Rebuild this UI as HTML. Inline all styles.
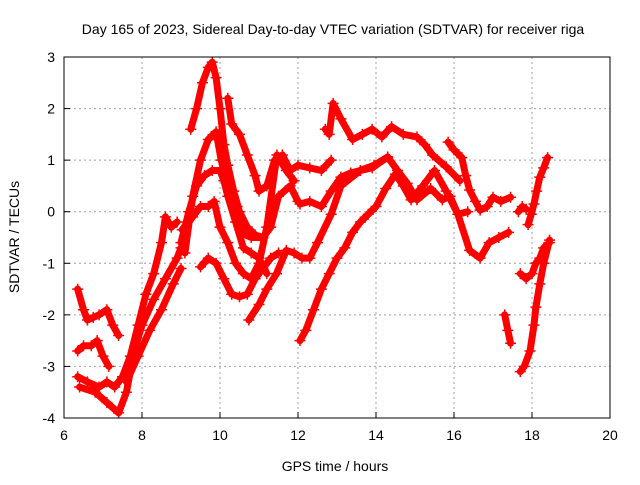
<!DOCTYPE html>
<html><head><meta charset="utf-8"><style>
body{margin:0;background:#fff;}
svg text{font-family:"Liberation Sans",sans-serif;font-size:14px;fill:#000;}
</style></head><body>
<svg id="chart" width="640" height="480" xmlns="http://www.w3.org/2000/svg">
<text x="333" y="34" text-anchor="middle">Day 165 of 2023, Sidereal Day-to-day VTEC variation (SDTVAR) for receiver riga</text>
<g id="grid"></g>
<g id="marks"></g>
<rect x="64" y="57" width="546" height="361" fill="none" stroke="#000" stroke-width="1"/>
<g id="ticks"></g>
<text x="335" y="471" text-anchor="middle">GPS time / hours</text>
<text transform="translate(19,237) rotate(-90)" text-anchor="middle">SDTVAR / TECUs</text>
</svg>
<script>
const xTicks=[6,8,10,12,14,16,18,20];
const yTicks=[-4,-3,-2,-1,0,1,2,3];
const s1x=[6.35,6.5,6.6,6.75,6.9,7.1,7.25,7.4];
const s1y=[-1.5,-1.9,-2.1,-2.05,-2.0,-1.9,-2.2,-2.4];
const s2x=[6.35,6.5,6.7,6.85,7.0,7.15];
const s2y=[-2.7,-2.6,-2.6,-2.5,-2.8,-3.0];
const s3x=[6.35,6.6,6.9,7.1,7.3,7.5,7.7,7.9,8.1,8.3,8.5,8.6,8.75,8.9];
const s3y=[-3.2,-3.3,-3.4,-3.3,-3.4,-3.2,-2.8,-2.2,-1.6,-1.2,-0.6,-0.1,-0.3,-0.2];
const s4x=[6.4,6.8,7.1,7.4,7.6,7.8,8.0,8.3,8.6,8.9,9.0];
const s4y=[-3.4,-3.5,-3.7,-3.9,-3.5,-2.7,-2.2,-1.7,-1.3,-0.9,-0.7];
const s5x=[7.6,7.9,8.2,8.5,8.8,9.0];
const s5y=[-3.3,-2.8,-2.3,-1.9,-1.4,-1.1];
const sAx=[9.25,9.4,9.55,9.7,9.8,9.9,10.0,10.1,10.2,10.35,10.5,10.7,10.9,11.1];
const sAy=[1.6,2.0,2.5,2.8,2.9,2.6,2.0,1.3,0.9,0.4,0.0,-0.3,-0.45,-0.5];
const sBx=[10.2,10.3,10.5,10.7,10.9,11.0,11.2,11.4,11.6,11.8,12.0,12.3,12.6,12.85];
const sBy=[2.2,1.7,1.5,1.1,0.7,0.4,0.5,1.0,1.1,0.8,0.9,0.85,0.8,1.0];
const sCx=[9.1,9.3,9.5,9.7,9.9,10.03,10.2,10.44,10.6,10.8,11.1,11.3,11.5,11.8,12.0];
const sCy=[-0.8,0.3,1.0,1.4,1.55,1.0,0.5,0.1,-0.43,-0.5,-0.5,-0.3,0.3,0.5,0.2];
const sDx=[9.0,9.2,9.4,9.6,9.8,10.0,10.1,10.2,10.4,10.6,10.8,11.0,11.2];
const sDy=[-0.6,0.0,0.5,0.7,0.8,0.8,0.6,0.3,-0.2,-0.7,-0.8,-0.9,-1.2];
const sEx=[9.03,9.3,9.5,9.7,9.85,10.0,10.2,10.4,10.6,10.8,11.0,11.2,11.46,11.7,11.9];
const sEy=[-0.35,-0.1,0.1,0.1,0.2,-0.3,-0.6,-1.0,-1.2,-1.3,-1.0,-0.3,1.1,0.8,0.6];
const sFx=[9.5,9.7,9.9,10.1,10.3,10.5,10.7,10.9,11.1,11.3,11.5];
const sFy=[-1.07,-0.9,-1.0,-1.3,-1.6,-1.65,-1.6,-1.3,-1.1,-0.9,-0.8];
const sHx=[10.74,11.0,11.2,11.45,11.7,11.9,12.1,12.3,12.5,12.85,13.1,13.6,13.9,14.3];
const sHy=[-2.1,-1.8,-1.5,-1.2,-0.75,-0.8,-0.9,-0.9,-0.6,-0.05,0.5,0.8,0.85,1.06];
const sGx=[12.05,12.2,12.4,12.6,12.8,13.0,13.2,13.4,13.6,13.8,14.0,14.25,14.5,14.7,14.9,15.2,15.5,15.8,16.1,16.4,16.67,16.9,17.15,17.4];
const sGy=[-2.5,-2.3,-1.9,-1.5,-1.2,-0.9,-0.7,-0.4,-0.2,-0.05,0.1,0.45,0.73,0.5,0.23,0.5,0.8,0.4,-0.05,-0.75,-0.9,-0.6,-0.5,-0.4];
const sTx=[12.7,12.8,12.9,13.1,13.4,13.65,13.9,14.15,14.4,14.7,15.05,15.25,15.45,15.8,16.15];
const sTy=[1.6,1.5,2.1,1.8,1.4,1.5,1.6,1.45,1.65,1.5,1.45,1.3,1.1,0.87,0.6];
const sUx=[15.85,16.0,16.2,16.3,16.4,16.55,16.67,16.85,17.0,17.2,17.45];
const sUy=[1.35,1.2,1.05,0.7,0.42,0.2,0.03,0.1,0.28,0.2,0.28];
const sMx=[12.05,12.3,12.6,12.85,13.1,13.35,13.6,13.95,14.3,14.55,14.8,15.05,15.4,15.7,15.9,16.1,16.35];
const sMy=[0.15,0.2,0.1,0.4,0.67,0.75,0.8,0.9,1.06,0.8,0.55,0.23,0.45,0.23,0.3,-0.05,0.0];
const sR1x=[17.3,17.38,17.45];
const sR1y=[-2.0,-2.3,-2.55];
const sR2x=[17.7,17.8,17.95,18.05,18.1,18.2,18.3,18.45];
const sR2y=[-3.1,-3.0,-2.7,-2.2,-1.85,-1.4,-1.0,-0.55];
const sR3x=[17.7,17.85,18.0,18.1,18.2,18.3,18.45];
const sR3y=[-1.2,-1.3,-1.2,-1.0,-0.9,-0.7,-0.6];
const sR4x=[17.65,17.75,17.85];
const sR4y=[0.0,0.1,0.05];
const sR5x=[17.9,17.98,18.05,18.12,18.2,18.3,18.4];
const sR5y=[-0.25,-0.05,0.15,0.4,0.67,0.85,1.05];
const seriesX=[s1x,s2x,s3x,s4x,s5x,sAx,sBx,sCx,sDx,sEx,sFx,sHx,sGx,sTx,sUx,sMx,sR1x,sR2x,sR3x,sR4x,sR5x];
const seriesY=[s1y,s2y,s3y,s4y,s5y,sAy,sBy,sCy,sDy,sEy,sFy,sHy,sGy,sTy,sUy,sMy,sR1y,sR2y,sR3y,sR4y,sR5y];
const NS='http://www.w3.org/2000/svg';
const X=v=>64+(v-6)*546/14;
const Y=v=>418-(v+4)*361/7;
const grid=document.getElementById('grid'),ticks=document.getElementById('ticks'),marks=document.getElementById('marks');
function mk(t,a,p){const e=document.createElementNS(NS,t);for(const k in a)e.setAttribute(k,a[k]);p.appendChild(e);return e;}
xTicks.forEach(t=>{
 if(t>6&&t<20){const g=mk('line',{x1:X(t),x2:X(t),y1:57,y2:418,stroke:'#a0a0a0','stroke-dasharray':'2,3'},grid);
 
 }
 const l=mk('line',{x1:X(t),x2:X(t),y1:418,y2:412,stroke:'#000'},ticks);
 
 
 const tx=mk('text',{x:X(t),y:440,'text-anchor':'middle'},ticks);tx.textContent=t;
 
 
});
yTicks.forEach(t=>{
 if(t>-4&&t<3){const g=mk('line',{x1:64,x2:610,y1:Y(t),y2:Y(t),stroke:'#a0a0a0','stroke-dasharray':'2,3'},grid);
 
 }
 const l=mk('line',{x1:64,x2:70,y1:Y(t),y2:Y(t),stroke:'#000'},ticks);
 
 
 const tx=mk('text',{x:55,y:Y(t)+5,'text-anchor':'end'},ticks);tx.textContent=t;
 
 
});
seriesX.forEach((xs,i)=>{
 const ys=seriesY[i];
 const pl=mk('polyline',{points:xs.map((x,j)=>X(x)+','+Y(ys[j])).join(' '),fill:'none',stroke:'#ff0000','stroke-width':7,'stroke-linejoin':'round','stroke-linecap':'round'},marks);
 
 
 xs.forEach((x,j)=>{
  const px=X(x),py=Y(ys[j]);
  const p=mk('path',{d:`M${px-5.5},${py}h11M${px},${py-5.5}v11`,stroke:'#ff0000','stroke-width':1.5},marks);
  
  
 });
});
</script>
</body></html>
